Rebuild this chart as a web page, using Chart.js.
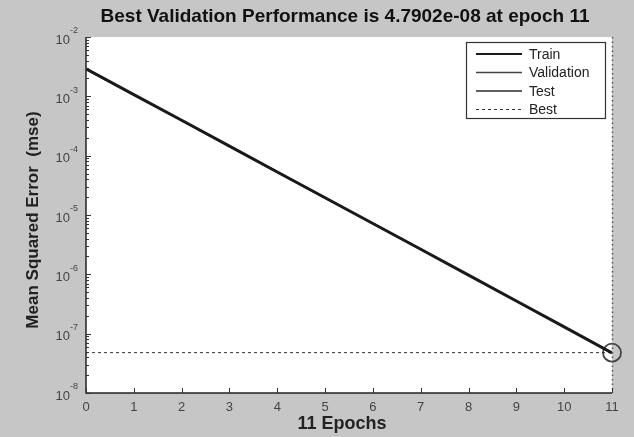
<!DOCTYPE html>
<html><head><meta charset="utf-8">
<script src="https://cdn.jsdelivr.net/npm/chart.js@4"></script>
<style>html,body{margin:0;padding:0;background:#c6c6c6}#wrap{width:634px;height:437px}</style>
</head><body><div id="wrap"><canvas id="c" width="634" height="437"></canvas></div>
<script>
const epochs = [0,1,2,3,4,5,6,7,8,9,10,11];
const trainMse = [2.9e-3,1.07e-3,3.95e-4,1.45e-4,5.3e-5,1.95e-5,7.2e-6,2.65e-6,9.7e-7,3.55e-7,1.3e-7,4.75e-8];
const valMse   = [2.95e-3,1.08e-3,3.98e-4,1.46e-4,5.35e-5,1.97e-5,7.25e-6,2.67e-6,9.8e-7,3.58e-7,1.31e-7,4.79e-8];
const testMse  = [2.85e-3,1.06e-3,3.92e-4,1.44e-4,5.25e-5,1.93e-5,7.15e-6,2.63e-6,9.6e-7,3.52e-7,1.29e-7,4.72e-8];
const bestEpoch = 11;
const bestPerf = 4.7902e-8;
const yDecades = [1e-8,1e-7,1e-6,1e-5,1e-4,1e-3,1e-2];
const yExponents = ['-8','-7','-6','-5','-4','-3','-2'];
const xTicks = [0,1,2,3,4,5,6,7,8,9,10,11];
const titleText = 'Best Validation Performance is 4.7902e-08 at epoch 11';
const xTitle = '11 Epochs';
const yTitle = 'Mean Squared Error  (mse)';

const pts = arr => epochs.map((e,i)=>({x:e,y:arr[i]}));

const FONT = '"Liberation Sans", Arial, sans-serif';

const decor = {
  id:'decor',
  beforeDraw(chart){
    const {ctx, chartArea:a} = chart;
    ctx.save();
    ctx.fillStyle='#c6c6c6';
    ctx.fillRect(0,0,chart.width,chart.height);
    ctx.fillStyle='#ffffff';
    ctx.fillRect(a.left,a.top,a.right-a.left,a.bottom-a.top);
    ctx.restore();
  },
  afterDraw(chart){
    const {ctx, chartArea:a, scales} = chart;
    const xs = scales.x, ys = scales.y;
    ctx.save();
    ctx.strokeStyle='#222'; ctx.lineWidth=1.5;
    ctx.beginPath();
    ctx.moveTo(a.left,a.top); ctx.lineTo(a.left,a.bottom); ctx.lineTo(a.right,a.bottom);
    ctx.stroke();
    ctx.lineWidth=1.5; ctx.strokeStyle='#555'; ctx.setLineDash([1.5,3]);
    ctx.beginPath(); ctx.moveTo(a.right+0.5,a.top); ctx.lineTo(a.right+0.5,a.bottom); ctx.stroke();
    ctx.setLineDash([]);
    ctx.strokeStyle='#333'; ctx.lineWidth=1;
    yDecades.forEach((d,i)=>{
      const y = Math.round(ys.getPixelForValue(d))+0.5;
      ctx.beginPath(); ctx.moveTo(a.left,y); ctx.lineTo(a.left+5,y); ctx.stroke();
      if(i<yDecades.length-1){
        for(let m=2;m<=9;m++){
          const ym = Math.round(ys.getPixelForValue(d*m))+0.5;
          ctx.beginPath(); ctx.moveTo(a.left,ym); ctx.lineTo(a.left+3,ym); ctx.stroke();
        }
      }
    });
    xTicks.forEach(v=>{
      const x = Math.round(xs.getPixelForValue(v))+0.5;
      ctx.beginPath(); ctx.moveTo(x,a.bottom); ctx.lineTo(x,a.bottom-5); ctx.stroke();
    });
    ctx.fillStyle='#444'; ctx.textBaseline='middle';
    yDecades.forEach((d,i)=>{
      const y = ys.getPixelForValue(d);
      const exp = yExponents[i];
      ctx.font = '9px '+FONT;
      const ew = ctx.measureText(exp).width;
      const right = a.left-8;
      ctx.textAlign='left';
      ctx.fillText(exp, right-ew, y-6);
      ctx.font = '13px '+FONT;
      const bw = ctx.measureText('10').width;
      ctx.fillText('10', right-ew-bw, y+3);
    });
    ctx.font='13px '+FONT; ctx.textAlign='center'; ctx.textBaseline='middle';
    xTicks.forEach(v=>{ ctx.fillText(String(v), xs.getPixelForValue(v), a.bottom+14); });
    ctx.fillStyle='#111'; ctx.font='bold 19px '+FONT; ctx.textAlign='center'; ctx.textBaseline='middle';
    ctx.fillText(titleText, 345, 17);
    ctx.fillStyle='#222'; ctx.font='bold 18px '+FONT;
    ctx.fillText(xTitle, 342, 424);
    ctx.save(); ctx.translate(33, 220); ctx.rotate(-Math.PI/2);
    ctx.font='bold 17px '+FONT; ctx.fillText(yTitle, 0, 0); ctx.restore();
    const lx=466, ly=42, lw=139, lh=76;
    ctx.fillStyle='#fff'; ctx.fillRect(lx,ly,lw,lh);
    ctx.strokeStyle='#333'; ctx.lineWidth=1.2; ctx.strokeRect(lx+0.5,ly+0.5,lw,lh);
    const items = chart.data.datasets.filter(d=>d.label);
    items.forEach((ds,i)=>{
      const y = ly+12+i*18.5;
      ctx.strokeStyle=ds.borderColor; ctx.lineWidth=Math.min(ds.borderWidth,2);
      ctx.setLineDash(ds.borderDash||[]);
      ctx.beginPath(); ctx.moveTo(lx+10,y); ctx.lineTo(lx+56,y); ctx.stroke();
      ctx.setLineDash([]);
      ctx.fillStyle='#222'; ctx.font='14px '+FONT; ctx.textAlign='left'; ctx.textBaseline='middle';
      ctx.fillText(ds.label, lx+63, y+1);
    });
    ctx.restore();
  }
};

new Chart(document.getElementById('c'), {
  type:'line',
  data:{datasets:[
    {label:'Train', data:pts(trainMse), borderColor:'#1a1a1a', borderWidth:3, pointRadius:0, tension:0},
    {label:'Validation', data:pts(valMse), borderColor:'#444', borderWidth:1.5, pointRadius:0, tension:0},
    {label:'Test', data:pts(testMse), borderColor:'#2a2a2a', borderWidth:1.5, pointRadius:0, tension:0},
    {label:'Best', data:[{x:epochs[0],y:bestPerf},{x:bestEpoch,y:bestPerf}], borderColor:'#333', borderWidth:1, borderDash:[3,3], pointRadius:0},
    {data:[{x:bestEpoch,y:bestPerf}], showLine:false, pointRadius:9, pointBorderWidth:1.8, pointBorderColor:'#444', pointBackgroundColor:'rgba(0,0,0,0)', clip:false}
  ]},
  options:{
    responsive:false, animation:false,
    layout:{padding:{left:0,right:22,top:37,bottom:0}},
    plugins:{ legend:{display:false}, tooltip:{enabled:false}, title:{display:false} },
    scales:{
      x:{type:'linear', min:0, max:11,
        ticks:{display:false, stepSize:1},
        grid:{display:false}, border:{display:false},
        afterFit(s){ s.height=44; }
      },
      y:{type:'logarithmic', min:1e-8, max:1e-2,
        ticks:{display:false},
        grid:{display:false}, border:{display:false},
        afterFit(s){ s.width=86; }
      }
    }
  },
  plugins:[decor]
});
</script></body></html>
